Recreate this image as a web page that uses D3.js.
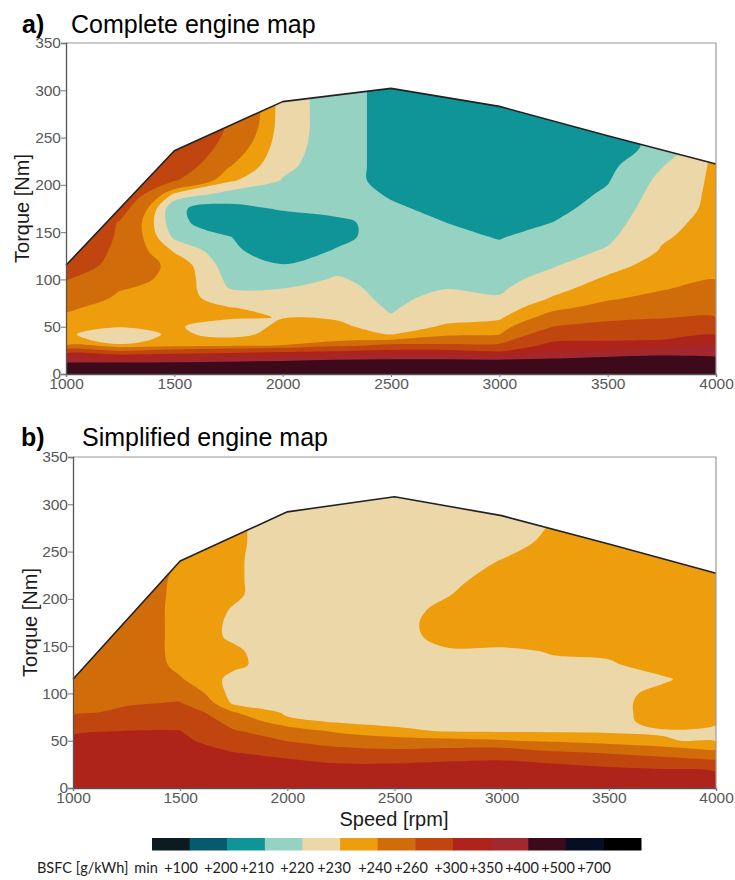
<!DOCTYPE html>
<html><head><meta charset="utf-8">
<script src="https://cdn.jsdelivr.net/npm/d3@7"></script>
<style>body{margin:0;background:#fff}svg{display:block}</style>
</head><body>
<svg id="chart" width="735" height="880"></svg>
<script>
// ---------------- DATA ----------------
const speeds = [1000,1250,1500,1750,2000,2250,2500,2750,3000,3250,3500,3750,4000];
const xTicks = [1000,1500,2000,2500,3000,3500,4000];
const yTicks = [0,50,100,150,200,250,300,350];

// BSFC band lower bounds (g/kWh) and colours
const bandThresholds = [100,200,210,220,230,240,260,300,350,400,500,700];
const bandColors = ["#0c1a22","#075a6e","#0f9497","#96d2c1","#ebd7a8","#ee9d0c","#d16c0b","#c1450f","#ae231a","#a3272d","#3c0a1a","#050e24","#000000"];
const legendLabels = ["min","+100","+200","+210","+220","+230","+240","+260","+300","+350","+400","+500","+700"];

// Full load curves
const fullLoadSpeed = [1000,1500,2000,2500,3000,3500,4000];
const fullLoadTorqueA = [115,236,288,302,283,252,222];
const fullLoadTorqueB = [115,240,292,308,288,258,227];

// ---- Map a (complete): BSFC [g/kWh] per speed column, at torqueRowsA ----
const torqueRowsA = [0,6,12,18,24,30,36,42,50,60,70,80,90,100,115,130,145,160,175,190,205,220,240,260,280,300,320];
const bsfcA1000 = [470,435,400.5,337,270,238,234,232,233,237,242,248,254,261,280,288,290,290,290,290,290,290,290,290,290,290,290];
const bsfcA1250 = [470,435,400.5,325,262,232,225,222,230.5,232.5,235,238,240.5,243,247.5,252,256,258,270,285,290,290,290,290,290,290,290];
const bsfcA1500 = [470,438,405,337,270,237,234,232.5,232,233,234,235,237,238,237.5,229,218,213,211,227.5,262,275,290,290,290,290,290];
const bsfcA1750 = [470,440,410,352,280,238,233,226,222,232,230.5,225,220.2,218,215,212.5,210.5,203,207,216,232,241,250,258,262,265,268];
const bsfcA2000 = [470,445,418,360,290,240.5,236,234,233,229.5,227,223,220.2,216,210.5,204,201,205,211,215,219.5,222,224,225,225,225,225];
const bsfcA2250 = [470,448,425,375,300.5,255,237,234,232,229,226,224,223,221,217,211,207,208,213,215,215,215,215,215,215,215,215];
const bsfcA2500 = [470,450,428,380,310,267,240.5,229.5,226,220.7,219,218,217,216.5,216,215.5,215,213.5,211.5,209,206,206,206,206,206,206,206];
const bsfcA2750 = [470,450,428,380,310,265,248,237.5,231,227.6,225,222.4,219.9,218.5,216.5,214.4,212.2,210.1,207.5,205,203,202,201,201,201,201,201];
const bsfcA3000 = [470,450,428,375,297,265,250,239.3,234,228.5,224.6,220.8,218.7,217,214.5,212,209.5,206,203,201,200.5,200.5,201,202,203,204,205];
const bsfcA3250 = [470,450,425,390,345,315,293,277,260.5,245.7,237,231,227.2,223.8,219.2,216.2,213.2,210.2,207.5,205.5,204,203.5,204,205,206,206,206];
const bsfcA3500 = [470,455,430,400.5,357,322,296,284,268,254.3,244.8,238.3,235,231.7,226.4,221,218.2,216,213.7,211.5,209.3,207.5,207,207,207,207,207];
const bsfcA3750 = [470,458,438,410,370,340,300.5,288.6,273.3,258,251,244,239.2,237.1,234,230.8,228.9,227.3,225.8,224.3,222.5,219.5,212,212,212,212,212];
const bsfcA4000 = [470,460,440,400.5,372,345,315,297,281,259.5,254.9,249.7,244.6,239.8,237.5,235.5,234,233,232,232,232,232,232,232,232,232,232];

// ---- Map b (simplified): BSFC [g/kWh] per speed column, at torqueRowsB ----
const torqueRowsB = [0,10,20,30,40,50,60,70,80,90,100,115,130,145,160,175,190,205,220,240,260,280,300,320];
const bsfcB1000 = [340,333,326,319,312,306,295,268,256,254,252,250,250,250,250,250,250,250,250,250,250,250,250,250];
const bsfcB1250 = [340,334,327,321,314,308,301,284,264,258,255,252,250,250,250,250,250,250,250,250,250,250,250,250];
const bsfcB1500 = [345,338,330,323,316,308,301,288,276,261,252,241,237,236,236,236,236,236.5,237,239,240.5,241,241,241];
const bsfcB1750 = [345,335,325,312,297,279,262,250.5,240.5,228,226,227,232,231.5,228.5,228.5,229.5,231.5,231.5,231.5,232,232,232,232];
const bsfcB2000 = [340,330,318,302,282,259,248,232.5,228,227,226,225,224.5,224,224,224,224,224,224,224,224,224,224,224];
const bsfcB2250 = [340,326,311,292,265,249.7,237.3,229,227,226,225,224.5,224,223.5,223.5,223.5,223.5,223.5,223.5,223.5,223.5,223.5,223.5,223.5];
const bsfcB2500 = [340,326,311,292,262,245.3,231.9,228,226.5,225.5,225,224.5,224.5,225,226,226.5,226.5,226.5,226.5,226.5,226,225.5,225,225];
const bsfcB2750 = [340,328,315,296,265,243,229.5,228,227.5,227.5,227.5,227.5,228,229,233.5,234,232,229.5,227.5,226.5,226,226,226,226];
const bsfcB3000 = [340,330,317,298.5,267,241,229,227.5,227,227,227,227,227.5,229,233,236,237,236,234,230.3,227,226,226,226];
const bsfcB3250 = [340,328,315,288,256,237.8,229,228,227.5,227.5,227.5,228,229,230.5,234,236,237,237,236,234,232,230.5,229,228];
const bsfcB3500 = [340,328,307,276.5,250.5,234.6,229,228,227.5,227.5,227.5,228,229,231.5,235,237,238,238,237.5,237,236,236,236,236];
const bsfcB3750 = [340,322,300.5,266,246,230.5,229.5,232,233,233,232,229,233,235,236.5,237.5,238,238,238,238,238,238,238,238];
const bsfcB4000 = [340,318,291,259.5,239.5,229,228,231,233,234,234,234,235,236,237,238,238,238,238,238,238,238,238,238];

const colsA = [bsfcA1000,bsfcA1250,bsfcA1500,bsfcA1750,bsfcA2000,bsfcA2250,bsfcA2500,bsfcA2750,bsfcA3000,bsfcA3250,bsfcA3500,bsfcA3750,bsfcA4000];
const colsB = [bsfcB1000,bsfcB1250,bsfcB1500,bsfcB1750,bsfcB2000,bsfcB2250,bsfcB2500,bsfcB2750,bsfcB3000,bsfcB3250,bsfcB3500,bsfcB3750,bsfcB4000];

// ---------------- DRAW ----------------
const svg = d3.select('#chart');
const FONT = "'Liberation Sans', Arial, sans-serif";
const defs = svg.append('defs');

function drawPanel(cfg) {
  const x = d3.scaleLinear().domain([1000,4000]).range([cfg.left, cfg.right]);
  const y = d3.scaleLinear().domain([0,350]).range([cfg.bottom, cfg.top]);
  const curvePts = fullLoadSpeed.map((s,i) => [x(s), y(cfg.flTorque[i])]);
  const clipPoly = [[x(1000), y(0)], ...curvePts, [x(4000), y(0)]];
  const polyD = 'M' + clipPoly.map(p => p.join(',')).join('L') + 'Z';
  defs.append('clipPath').attr('id', 'clip' + cfg.id).append('path').attr('d', polyD);

  const nx = speeds.length, ny = cfg.rows.length;
  const values = [];
  for (let j = 0; j < ny; j++) for (let i = 0; i < nx; i++) values.push(cfg.cols[i][j]);
  const ix = d3.scaleLinear().domain(d3.range(nx)).range(speeds);
  const iy = d3.scaleLinear().domain(d3.range(ny)).range(cfg.rows);
  const cl = (v, n) => Math.max(0, Math.min(n - 1, v - 0.5));
  const proj = p => [x(ix(cl(p[0], nx))), y(iy(cl(p[1], ny)))];
  const line = d3.line().curve(d3.curveCatmullRomClosed.alpha(0.5));
  const contours = d3.contours().size([nx, ny]).thresholds(bandThresholds)(values);

  const layer = svg.append('g').attr('clip-path', `url(#clip${cfg.id})`);
  layer.append('path').attr('d', polyD).attr('fill', bandColors[0]);
  contours.forEach((c, k) => {
    let d = '';
    c.coordinates.forEach(poly => poly.forEach(ring => {
      const pts = [];
      ring.slice(0, -1).map(proj).forEach(p => {
        const q = pts[pts.length - 1];
        if (!q || Math.abs(q[0]-p[0]) > 0.01 || Math.abs(q[1]-p[1]) > 0.01) pts.push(p);
      });
      if (pts.length > 2) d += line(pts) + 'Z';
    }));
    if (d) layer.append('path').attr('d', d).attr('fill', bandColors[k + 1]).attr('fill-rule', 'evenodd');
  });

  // full load line
  svg.append('path').attr('d', d3.line()(curvePts)).attr('fill', 'none')
    .attr('stroke', '#222').attr('stroke-width', 1.6).attr('stroke-linejoin', 'round');

  // frame
  svg.append('path').attr('d', `M${cfg.left},${cfg.top}H${cfg.right}V${cfg.bottom}`)
    .attr('fill', 'none').attr('stroke', '#9a9a9a').attr('stroke-width', 1.2);

  // axes
  const ay = svg.append('g').attr('transform', `translate(${cfg.left},0)`)
    .call(d3.axisLeft(y).tickValues(yTicks).tickSize(5).tickPadding(0).tickFormat(d3.format('d')));
  const ax = svg.append('g').attr('transform', `translate(0,${cfg.bottom})`)
    .call(d3.axisBottom(x).tickValues(xTicks).tickSize(3).tickPadding(1).tickFormat(d3.format('d')));
  [ax, ay].forEach(a => {
    a.select('.domain').attr('stroke', '#555').attr('stroke-width', 1.3);
    a.selectAll('.tick line').attr('stroke', '#777');
    a.selectAll('.tick text').attr('fill', '#585858').style('font-family', FONT).style('font-size', '15.5px');
  });

  // titles
  svg.append('text').attr('x', cfg.tagX).attr('y', cfg.titleY).text(cfg.tag)
    .style('font-family', FONT).style('font-weight', 'bold').style('font-size', '25px').attr('fill', '#000');
  svg.append('text').attr('x', cfg.titleX).attr('y', cfg.titleY).text(cfg.title)
    .style('font-family', FONT).style('font-size', '25px').attr('fill', '#000');
  svg.append('text').attr('transform', `translate(${cfg.yLabelX},${(cfg.top + cfg.bottom) / 2}) rotate(-90)`)
    .attr('text-anchor', 'middle').text('Torque [Nm]')
    .style('font-family', FONT).style('font-size', '20px').attr('fill', '#1a1a1a');
}

drawPanel({id: 'A', left: 66, right: 716, top: 43, bottom: 374, rows: torqueRowsA, cols: colsA,
  flTorque: fullLoadTorqueA, tag: 'a)', tagX: 22, title: 'Complete engine map', titleX: 71, titleY: 33, yLabelX: 29});
drawPanel({id: 'B', left: 73, right: 716, top: 457, bottom: 788, rows: torqueRowsB, cols: colsB,
  flTorque: fullLoadTorqueB, tag: 'b)', tagX: 21, title: 'Simplified engine map', titleX: 82, titleY: 446, yLabelX: 37});

// x-axis title
svg.append('text').attr('x', 394).attr('y', 826).attr('text-anchor', 'middle').text('Speed [rpm]')
  .style('font-family', FONT).style('font-size', '20px').attr('fill', '#1a1a1a');

// colour bar legend
const lx = d3.scaleBand().domain(d3.range(bandColors.length)).range([152, 641]);
svg.append('g').selectAll('rect').data(bandColors).join('rect')
  .attr('x', (d, i) => lx(i)).attr('y', 838).attr('width', lx.bandwidth() + 0.5).attr('height', 12.5)
  .attr('fill', d => d);
const labelCenters = [146,181,221,257,297,334,375,411,451,486,522,558,594];
svg.append('text').attr('x', 37).attr('y', 873).text('BSFC [g/kWh]')
  .style('font-family', "Lato, 'Open Sans', sans-serif").style('font-size', '14.5px').attr('fill', '#222');
svg.append('g').selectAll('text').data(legendLabels).join('text')
  .attr('x', (d, i) => labelCenters[i]).attr('y', 873).attr('text-anchor', 'middle').text(d => d)
  .style('font-family', "Lato, 'Open Sans', sans-serif").style('font-size', '14.5px').attr('fill', '#222');
</script>
</body></html>
